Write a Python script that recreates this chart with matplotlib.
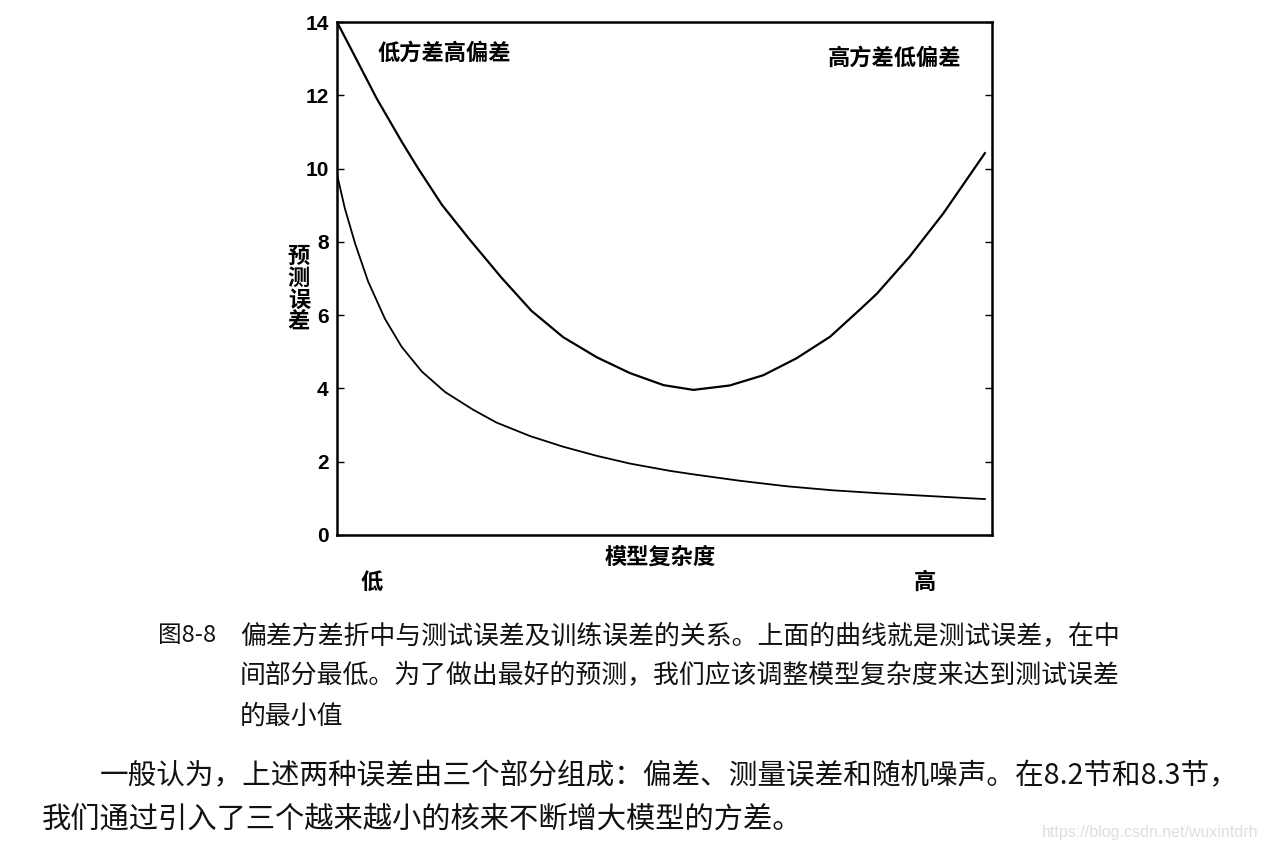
import numpy as np
import matplotlib
matplotlib.use('Agg')
import matplotlib.pyplot as plt

plt.rcParams['font.family'] = ['Noto Sans CJK SC', 'DejaVu Sans']

# complexity (0 = left edge, 1 = last sample)
x_test = [0.000, 0.028, 0.061, 0.100, 0.125, 0.162, 0.203, 0.254, 0.300,
          0.349, 0.401, 0.452, 0.504, 0.550, 0.606, 0.658, 0.709, 0.761,
          0.807, 0.833, 0.884, 0.936, 1.000]
test_err = [14.0, 13.05, 11.92, 10.73, 10.01, 9.01, 8.10, 7.02, 6.12,
            5.40, 4.85, 4.42, 4.09, 3.96, 4.08, 4.36, 4.82, 5.41,
            6.15, 6.58, 7.60, 8.78, 10.42]

x_train = [0.000, 0.002, 0.012, 0.028, 0.048, 0.074, 0.100, 0.131, 0.167,
           0.210, 0.246, 0.298, 0.349, 0.401, 0.452, 0.514, 0.552, 0.622,
           0.694, 0.765, 0.836, 1.000]
train_err = [9.85, 9.69, 8.92, 7.95, 6.92, 5.90, 5.13, 4.46, 3.90,
             3.42, 3.07, 2.70, 2.41, 2.16, 1.95, 1.75, 1.65, 1.48,
             1.33, 1.22, 1.14, 0.98]

yticks = [0, 2, 4, 6, 8, 10, 12, 14]

caption = ['偏差方差折中与测试误差及训练误差的关系。上面的曲线就是测试误差，在中',
           '间部分最低。为了做出最好的预测，我们应该调整模型复杂度来达到测试误差',
           '的最小值']
para = ['一般认为，上述两种误差由三个部分组成：偏差、测量误差和随机噪声。在8.2节和8.3节，',
        '我们通过引入了三个越来越小的核来不断增大模型的方差。']

W, H = 1267, 852
fig = plt.figure(figsize=(W / 100, H / 100), dpi=100)
ax = fig.add_axes([337 / W, 1 - 535 / H, (992 - 337) / W, (535 - 22) / H])

ax.plot(x_test, test_err, color='black', lw=1.6)
ax.plot(x_train, train_err, color='black', lw=1.3)

ax.set_xlim(0, 1.011)
ax.set_ylim(0, 14)
ax.set_xticks([])
ax.set_yticks(yticks)
ax.tick_params(axis='y', direction='in', length=5, width=1, right=True,
               pad=6, labelsize=15)
for lab in ax.get_yticklabels():
    lab.set_family(['Liberation Sans', 'DejaVu Sans'])
    lab.set_weight('bold')
for s in ax.spines.values():
    s.set_linewidth(1.8)

ax.text(0.062, 13.15, '低方差高偏差', fontsize=16, weight='bold', va='center')
ax.text(0.757, 13.0, '高方差低偏差', fontsize=16, weight='bold', va='center')

def px(xp, yp, s, **kw):
    fig.text(xp / W, 1 - yp / H, s, **kw)

px(299, 289, '预\n测\n误\n差', fontsize=16, weight='bold', ha='center',
   va='center', linespacing=0.95)
px(660, 557, '模型复杂度', fontsize=16, weight='bold', ha='center', va='center')
px(372, 582, '低', fontsize=16, weight='bold', ha='center', va='center')
px(925, 582, '高', fontsize=16, weight='bold', ha='center', va='center')

px(158, 636, '图8-8', fontsize=17, va='center', color='#111111')
for i, line in enumerate(caption):
    px(240, 636 + 40 * i, line, fontsize=18.65, va='center', color='#111111')

px(100, 776, para[0], fontsize=20.6, va='center', color='#111111')
px(42, 820, para[1], fontsize=21.1, va='center', color='#111111')

px(1258, 833, 'https://blog.csdn.net/wuxintdrh', fontsize=11.5, ha='right',
   va='center', color='#dedede', family=['Liberation Sans', 'DejaVu Sans'])

fig.savefig('out.png', dpi=100)
